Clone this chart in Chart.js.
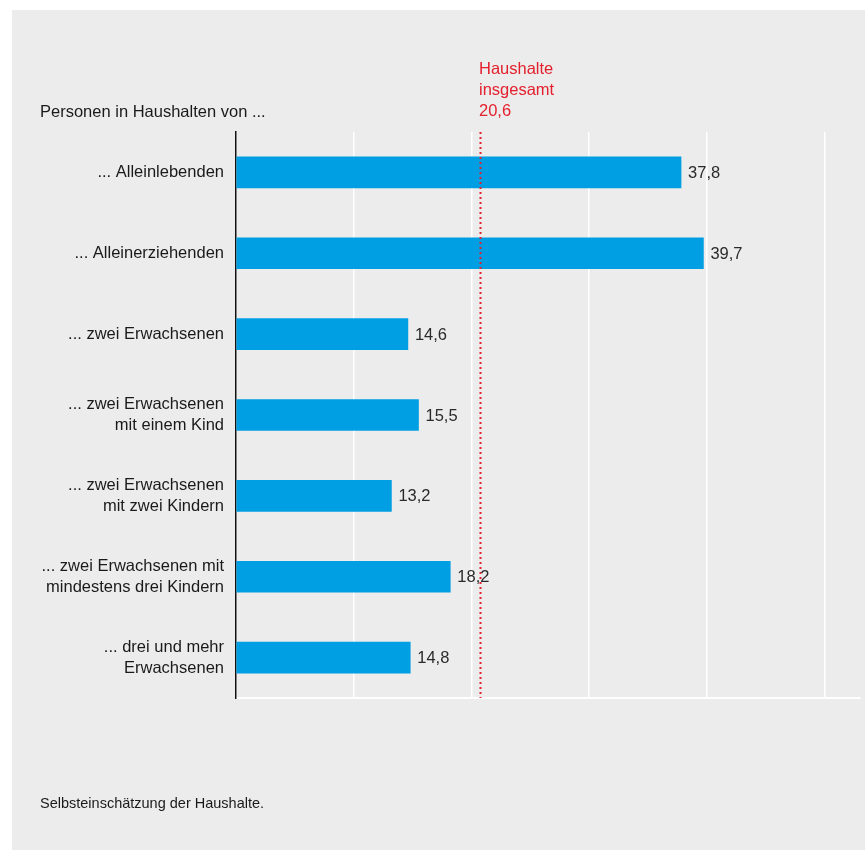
<!DOCTYPE html>
<html>
<head>
<meta charset="utf-8">
<script src="https://cdn.jsdelivr.net/npm/chart.js@4.4.1/dist/chart.umd.min.js"></script>
<style>
  html, body { margin: 0; padding: 0; background: #fff; }
  #wrap { position: relative; width: 865px; height: 850px; }
</style>
</head>
<body>
<div id="wrap"><canvas id="myChart" width="865" height="850"></canvas></div>
<script>
let categories = [
  '... Alleinlebenden',
  '... Alleinerziehenden',
  '... zwei Erwachsenen',
  ['... zwei Erwachsenen', 'mit einem Kind'],
  ['... zwei Erwachsenen', 'mit zwei Kindern'],
  ['... zwei Erwachsenen mit', 'mindestens drei Kindern'],
  ['... drei und mehr', 'Erwachsenen']
];
let values = [37.8, 39.7, 14.6, 15.5, 13.2, 18.2, 14.8];
let totalValue = 20.6;
let totalLabel = ['Haushalte', 'insgesamt'];
let heading = 'Personen in Haushalten von ...';
let footnote = 'Selbsteinschätzung der Haushalte.';

const FONT = '"Liberation Sans", Arial, sans-serif';
const fmt = (v) => v.toFixed(1).replace('.', ',');

// grey panel behind everything
const panel = {
  id: 'panel',
  beforeDraw(chart) {
    const c = chart.ctx;
    c.save();
    c.fillStyle = '#ffffff';
    c.fillRect(0, 0, chart.width, chart.height);
    c.fillStyle = '#ececec';
    c.fillRect(12, 10, chart.width - 12, chart.height - 10);
    c.restore();
  }
};

// heading, reference line with its label, value labels and footnote
const extras = {
  id: 'extras',
  afterDatasetsDraw(chart) {
    const c = chart.ctx;
    const x = chart.scales.x;
    const area = chart.chartArea;
    c.save();

    // dotted line for all households
    const lx = Math.round(x.getPixelForValue(totalValue)) + 1.5;
    c.strokeStyle = '#e3202d';
    c.lineWidth = 2;
    c.setLineDash([2, 3]);
    c.beginPath();
    c.moveTo(lx, area.top);
    c.lineTo(lx, area.bottom);
    c.stroke();
    c.setLineDash([]);

    c.font = '16.5px ' + FONT;
    c.textBaseline = 'alphabetic';
    c.fillStyle = '#e3202d';
    c.textAlign = 'left';
    const lines = totalLabel.concat([fmt(totalValue)]);
    lines.forEach((t, i) => c.fillText(t, lx - 1.5, 74 + i * 21));

    c.fillStyle = '#1a1a1a';
    c.fillText(heading, 40, 117);

    // values at the bar ends
    c.fillStyle = '#2a2a2a';
    c.textBaseline = 'middle';
    const meta = chart.getDatasetMeta(0);
    meta.data.forEach((bar, i) => {
      c.fillText(fmt(values[i]), bar.x + 7, bar.y + 1);
    });

    c.font = '14.5px ' + FONT;
    c.textBaseline = 'alphabetic';
    c.fillStyle = '#1a1a1a';
    c.fillText(footnote, 40, 808);
    c.restore();
  }
};

let ctx = document.getElementById('myChart').getContext('2d');
let myChart = new Chart(ctx, {
  type: 'bar',
  data: {
    labels: categories,
    datasets: [{
      data: values,
      backgroundColor: '#009ee2',
      barThickness: 31
    }]
  },
  options: {
    indexAxis: 'y',
    responsive: false,
    animation: false,
    layout: { padding: { top: 132, bottom: 152, left: 0, right: 5 } },
    plugins: {
      legend: { display: false },
      tooltip: { enabled: false }
    },
    scales: {
      x: {
        min: 0,
        max: 53,
        ticks: { display: false, stepSize: 10 },
        afterBuildTicks: (scale) => {
          scale.ticks = scale.ticks.filter(t => t.value % 10 === 0);
        },
        afterFit: (scale) => { scale.height = 0; },
        grid: { color: '#ffffff', lineWidth: 1.5, drawTicks: false },
        border: { color: '#ffffff', width: 2 }
      },
      y: {
        offset: true,
        afterFit: (scale) => { scale.width = 236; },
        grid: { display: false, drawTicks: false },
        border: { color: '#111111', width: 1.5 },
        ticks: {
          padding: 12,
          color: '#1a1a1a',
          font: { family: FONT, size: 16.5, lineHeight: 1.27 }
        }
      }
    }
  },
  plugins: [panel, extras]
});
</script>
</body>
</html>
